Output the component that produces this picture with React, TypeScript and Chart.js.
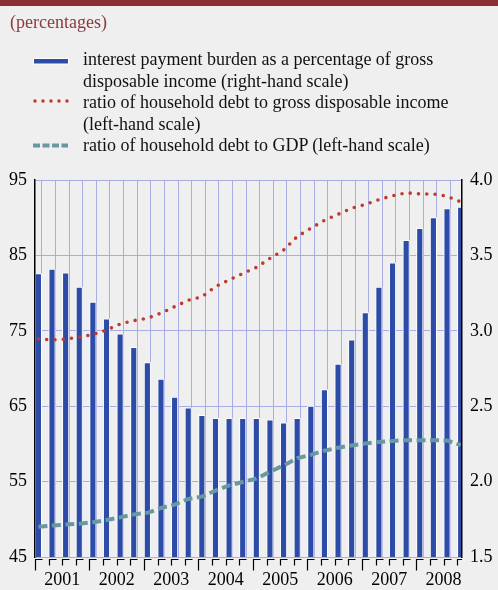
import React, { useEffect, useRef } from "react";
import { Chart, registerables } from "chart.js";

Chart.register(...registerables);

const years = ["2001", "2002", "2003", "2004", "2005", "2006", "2007", "2008"];
const quarterNames = ["Q1", "Q2", "Q3", "Q4"];
const quarters = years.flatMap((y) => quarterNames.map((q) => `${y} ${q}`));

// interest payment burden, % of gross disposable income (right-hand scale)
const interestBurden = [
  3.38, 3.41, 3.385, 3.29, 3.19, 3.08, 2.98, 2.89,
  2.79, 2.68, 2.56, 2.49, 2.44, 2.42, 2.42, 2.42,
  2.42, 2.41, 2.39, 2.42, 2.5, 2.61, 2.78, 2.94,
  3.12, 3.29, 3.45, 3.6, 3.68, 3.75, 3.81, 3.82,
];

// ratio of household debt to gross disposable income (left-hand scale)
const debtToIncome = [
  73.9, 73.8, 73.9, 74.15, 74.5, 75.1, 75.9, 76.35,
  76.65, 77.35, 78.2, 79.05, 79.5, 80.85, 81.75, 82.6,
  83.4, 84.6, 85.7, 87.5, 88.6, 89.65, 90.45, 91.25,
  91.75, 92.4, 92.9, 93.3, 93.15, 93.15, 92.85, 92.1,
];

// ratio of household debt to GDP (left-hand scale)
const debtToGDP = [
  49.0, 49.17, 49.3, 49.42, 49.6, 49.9, 50.26, 50.65,
  50.85, 51.5, 51.95, 52.7, 53.0, 53.8, 54.5, 54.95,
  55.4, 56.3, 57.15, 58.1, 58.55, 59.1, 59.5, 59.8,
  60.05, 60.25, 60.4, 60.5, 60.5, 60.5, 60.45, 59.85,
];

const leftTicks = [45, 55, 65, 75, 85, 95];
const rightTicks = [1.5, 2.0, 2.5, 3.0, 3.5, 4.0];

const legendLabels = [
  ["interest payment burden as a percentage of gross", "disposable income (right-hand scale)"],
  ["ratio of household debt to gross disposable income", "(left-hand scale)"],
  ["ratio of household debt to GDP (left-hand scale)"],
];

const FONT = "'Liberation Serif', 'Times New Roman', Times, serif";
const BG = "#efefef";
const GRID = "#a9aee2";
const BLUE = "#2d4ca8";
const RED = "#bd3b30";
const TEAL = "#6a98a1";
const DARKRED = "#8a2e36";

const quarterTicks = {
  id: "quarterTicks",
  afterDraw(chart: any) {
    const x = chart.scales.x;
    const { ctx, chartArea } = chart;
    const yTop = Math.round(chartArea.bottom) + 2.5;
    ctx.save();
    ctx.strokeStyle = "#000";
    ctx.lineWidth = 1.2;
    x.ticks.forEach((t: any, i: number) => {
      const px = Math.round(x.getPixelForValue(t.value)) + 0.5;
      const len = i % 4 === 0 ? 11 : 6;
      ctx.beginPath();
      ctx.moveTo(px, yTop + len);
      ctx.lineTo(px, yTop);
      ctx.lineTo(Math.min(px + 7, chartArea.right), yTop);
      ctx.stroke();
    });
    ctx.restore();
  },
};

export default function App() {
  const ref = useRef<HTMLCanvasElement | null>(null);

  useEffect(() => {
    if (!ref.current) return;
    Chart.defaults.font.family = FONT;
    const chart = new Chart(ref.current, {
      type: "bar",
      data: {
        datasets: [
          {
            type: "line",
            label: legendLabels[1].join(" "),
            data: debtToIncome.map((v, i) => ({ x: i, y: v })),
            yAxisID: "yL",
            borderColor: RED,
            borderWidth: 3.6,
            borderDash: [0, 8.3],
            borderCapStyle: "round",
            pointRadius: 0,
            tension: 0,
            order: 0,
          } as any,
          {
            type: "line",
            label: legendLabels[2].join(" "),
            data: debtToGDP.map((v, i) => ({ x: i, y: v })),
            yAxisID: "yL",
            borderColor: TEAL,
            borderWidth: 4,
            borderDash: [9, 4.5],
            borderCapStyle: "butt",
            pointRadius: 0,
            tension: 0,
            order: 1,
          } as any,
          {
            type: "bar",
            label: legendLabels[0].join(" "),
            data: interestBurden.map((v, i) => ({ x: i, y: v })),
            yAxisID: "yR",
            backgroundColor: BLUE,
            borderColor: "#ffffff",
            borderWidth: { left: 1, top: 1, right: 1, bottom: 0 },
            borderSkipped: false,
            barThickness: 6.5,
            order: 2,
          } as any,
        ],
      },
      options: {
        responsive: false,
        animation: false,
        layout: { padding: { top: 180, left: 0, right: 0, bottom: 0 } },
        plugins: { legend: { display: false }, tooltip: { enabled: false }, title: { display: false } },
        scales: {
          x: {
            type: "linear",
            min: -0.25,
            max: 31.1,
            offset: false,
            afterBuildTicks: (s: any) => {
              s.ticks = quarters.map((_, i) => ({ value: i - 0.25 }));
            },
            afterFit: (s: any) => {
              s.height = 33;
            },
            grid: { color: GRID, lineWidth: 1, drawTicks: false },
            border: { display: false },
            ticks: {
              autoSkip: false,
              maxRotation: 0,
              minRotation: 0,
              padding: 12,
              color: "#000",
              font: { size: 18, family: FONT },
              callback: (_v: any, idx: number) => (idx % 4 === 2 ? years[Math.floor(idx / 4)] : ""),
            },
          },
          yL: {
            type: "linear",
            position: "left",
            min: 45,
            max: 95,
            afterBuildTicks: (s: any) => {
              s.ticks = leftTicks.map((v) => ({ value: v }));
            },
            afterFit: (s: any) => {
              s.width = 35;
            },
            grid: { color: GRID, lineWidth: 1, drawTicks: false },
            border: { color: "#000", width: 1.5, z: 1 },
            ticks: { padding: 8, color: "#000", font: { size: 18, family: FONT } },
          },
          yR: {
            type: "linear",
            position: "right",
            min: 1.5,
            max: 4.0,
            afterBuildTicks: (s: any) => {
              s.ticks = rightTicks.map((v) => ({ value: v }));
            },
            afterFit: (s: any) => {
              s.width = 36;
            },
            grid: { display: false, drawTicks: false },
            border: { color: "#000", width: 1.5, z: 1 },
            ticks: {
              padding: 8,
              color: "#000",
              font: { size: 18, family: FONT },
              callback: (v: any) => Number(v).toFixed(1),
            },
          },
        },
      } as any,
      plugins: [quarterTicks],
    });
    return () => chart.destroy();
  }, []);

  const lineH = 21.5;
  const legendTop = 49;
  const lines: { text: string; entry: number }[] = [];
  legendLabels.forEach((ls, e) => ls.forEach((t) => lines.push({ text: t, entry: e })));

  return (
    <div
      style={{
        position: "absolute",
        left: 0,
        top: 0,
        width: 498,
        height: 590,
        background: BG,
        overflow: "hidden",
        fontFamily: FONT,
      }}
    >
      <canvas ref={ref} width={498} height={590} style={{ position: "absolute", left: 0, top: 0 }} />
      <div style={{ position: "absolute", left: 0, top: 0, width: 498, height: 6, background: DARKRED }} />
      <div
        style={{
          position: "absolute",
          left: 10,
          top: 11.5,
          fontSize: 18,
          lineHeight: `${lineH}px`,
          color: "#8b3a3e",
          whiteSpace: "nowrap",
        }}
      >
        (percentages)
      </div>
      <div
        style={{
          position: "absolute",
          left: 83,
          top: legendTop,
          fontSize: 18,
          lineHeight: `${lineH}px`,
          color: "#111",
          whiteSpace: "nowrap",
        }}
      >
        {lines.map((l, i) => (
          <div key={i}>{l.text}</div>
        ))}
      </div>
      <svg
        width={80}
        height={170}
        style={{ position: "absolute", left: 0, top: 0 }}
      >
        <rect x={33.5} y={58.5} width={35} height={5.5} fill={BLUE} stroke="#ffffff" strokeWidth={1} />
        <line
          x1={35}
          y1={101}
          x2={68}
          y2={101}
          stroke={RED}
          strokeWidth={3.5}
          strokeDasharray="0 8"
          strokeLinecap="round"
        />
        <line x1={33} y1={145.5} x2={68} y2={145.5} stroke={TEAL} strokeWidth={4} strokeDasharray="7 2.5" />
      </svg>
    </div>
  );
}
